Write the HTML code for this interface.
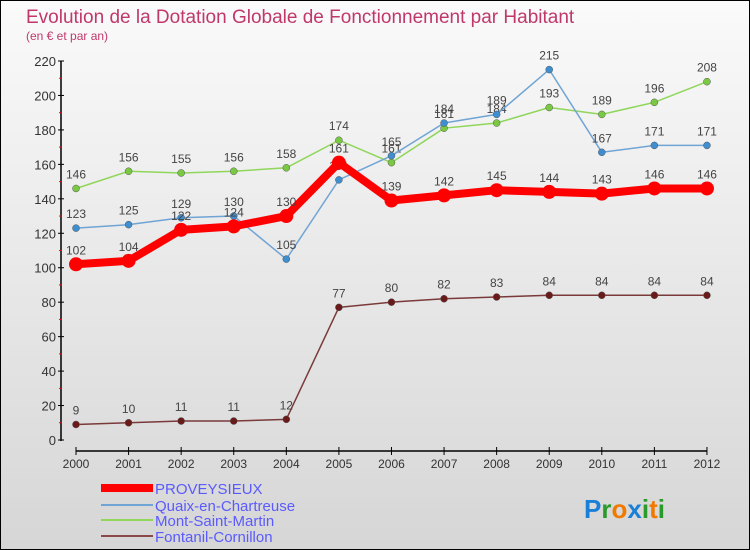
<!DOCTYPE html>
<html><head><meta charset="utf-8"><style>
body{margin:0}
#c{width:748px;height:548px;border:1px solid #000;background:linear-gradient(#fafafa,#d6d6d6);position:relative;font-family:"Liberation Sans",sans-serif;overflow:hidden}
</style></head><body>
<div id="c">
<svg id="s" width="748" height="548"></svg>
</div>
<script>
const years=["2000","2001","2002","2003","2004","2005","2006","2007","2008","2009","2010","2011","2012"];
const proveysieux=[102,104,122,124,130,161,139,142,145,144,143,146,146];
const quaix=[123,125,129,130,105,151,165,184,189,215,167,171,171];
const montSaintMartin=[146,156,155,156,158,174,161,181,184,193,189,196,208];
const fontanil=[9,10,11,11,12,77,80,82,83,84,84,84,84];
const yTicks=[0,20,40,60,80,100,120,140,160,180,200,220];
const names=["PROVEYSIEUX","Quaix-en-Chartreuse","Mont-Saint-Martin","Fontanil-Cornillon"];
const s=document.getElementById('s');const NS="http://www.w3.org/2000/svg";
function x(i){return 75+i*52.58;}
function y(v){return 439-v*(379/220);}
function el(t,a,p){const e=document.createElementNS(NS,t);for(const k in a)e.setAttribute(k,a[k]);(p||s).appendChild(e);return e;}
function tx(str,a,nm){const e=el('text',a);e.textContent=str;return e;}
tx("Evolution de la Dotation Globale de Fonctionnement par Habitant",{x:25,y:22,'font-size':19,fill:'#c0386a'},'chart-title');
tx("(en € et par an)",{x:25,y:39,'font-size':12,fill:'#c0386a'},'chart-subtitle');
let ya=el('line',{x1:60,y1:60,x2:60,y2:440,stroke:'#000','stroke-width':1.5});

yTicks.forEach(v=>{el('line',{x1:57,x2:63,y1:y(v),y2:y(v),stroke:'#000'});
 if(v<220)el('line',{x1:58,x2:61,y1:y(v+10),y2:y(v+10),stroke:'#f00'});
 tx(String(v),{x:55,y:y(v)+5,'font-size':13,fill:'#333','text-anchor':'end'},'y-tick-label');});
let xa=el('line',{x1:75,y1:450,x2:706,y2:450,stroke:'#000','stroke-width':1.5});

years.forEach((yr,i)=>{el('line',{x1:x(i),x2:x(i),y1:446,y2:454,stroke:'#000'});
 tx(yr,{x:x(i),y:467,'font-size':12,fill:'#333','text-anchor':'middle'},'x-tick-label');});
const series=[
 {d:montSaintMartin,c:'#8fd65a',w:1.5,dot:'#7ac943',n:'mont-saint-martin'},
 {d:quaix,c:'#6fa4d4',w:1.5,dot:'#3f8ed0',n:'quaix-en-chartreuse'},
 {d:fontanil,c:'#7a3a3a',w:1.5,dot:'#6b1a1a',n:'fontanil-cornillon'},
 {d:proveysieux,c:'#f00',w:8,dot:'#f00',n:'proveysieux'}];
series.forEach(se=>{
 const p=el('polyline',{points:se.d.map((v,i)=>x(i)+','+y(v)).join(' '),fill:'none',stroke:se.c,'stroke-width':se.w,'stroke-linejoin':'round'});
 
 se.d.forEach((v,i)=>{const c=el('circle',{cx:x(i),cy:y(v),r:se.w>4?7:3.5,fill:se.dot,stroke:se.w>4?'none':'#555','stroke-width':0.5});
  
  tx(String(v),{x:x(i),y:y(v)-10,'font-size':12,fill:'#444','text-anchor':'middle'},se.n+'-value');});
});
const lc=['#f00','#6fa4d4','#8fd65a','#8a4a4a'],lw=[8,2,2,2],ly=[491,508,523,539];
names.forEach((n,i)=>{const l=el('line',{x1:100,x2:152,y1:ly[i]-4,y2:ly[i]-4,stroke:lc[i],'stroke-width':lw[i]});
 
 tx(n,{x:154,y:ly[i]+2,'font-size':15,fill:'#5a5aff'},'legend-entry');});
const logo=[["P","#1a7fd6"],["r","#2a9a2a"],["o","#f07a00"],["x","#1a7fd6"],["i","#2a9a2a"],["t","#f07a00"],["i","#2a9a2a"]];
let lx=583;const lt=el('text',{x:lx,y:517,'font-size':26,'font-weight':'bold'});

logo.forEach(([ch,c])=>{const t=el('tspan',{fill:c},lt);t.textContent=ch;});
</script>
</body></html>
